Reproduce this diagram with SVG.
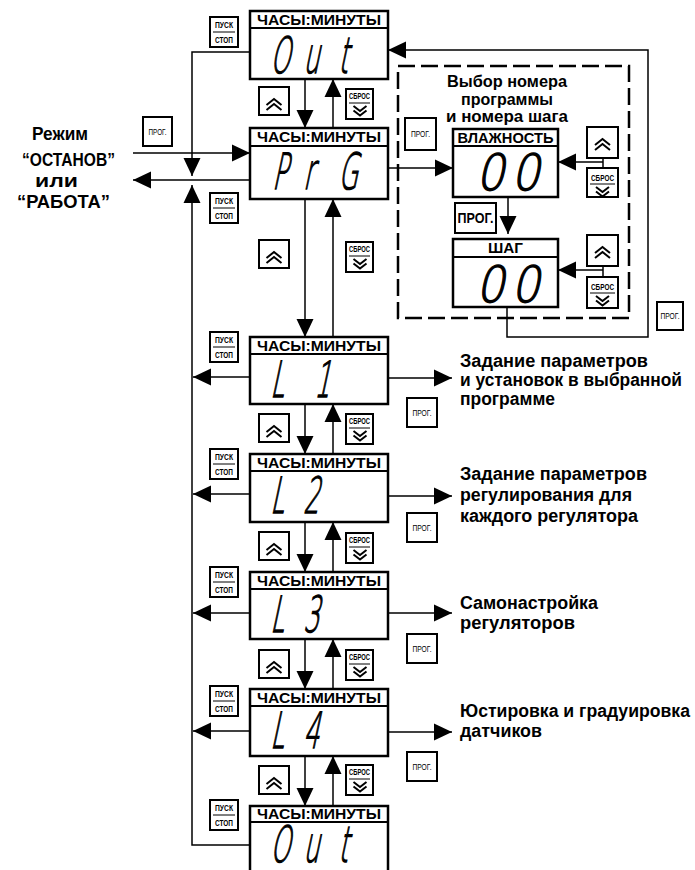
<svg xmlns="http://www.w3.org/2000/svg" xmlns:xlink="http://www.w3.org/1999/xlink" width="695" height="870" viewBox="0 0 695 870">
<style>
.d{fill:#fff;stroke:#000;stroke-width:2.5}
.hl{stroke:#000;stroke-width:2}
.b{fill:#fff;stroke:#000;stroke-width:2}
.sep{stroke:#000;stroke-width:1}
.c{fill:none;stroke:#000;stroke-width:1.5}
.ca{fill:none;stroke:#000;stroke-width:1.5;marker-end:url(#ah)}
.dash{fill:none;stroke:#000;stroke-width:2.5;stroke-dasharray:17 6}
.chev{fill:none;stroke:#000;stroke-width:2}
.hdr{font-family:"Liberation Sans",Arial,sans-serif;font-weight:bold;font-size:15px;text-anchor:middle}
.seg{font-family:"DejaVu Sans",sans-serif;font-weight:200;font-size:50px;fill:#000;stroke:#000;stroke-width:1.3}
.bt{font-family:"Liberation Sans",Arial,sans-serif;font-weight:bold;font-size:9px;text-anchor:middle}
.pg{font-family:"Liberation Sans",Arial,sans-serif;font-size:8.5px;text-anchor:middle}
.pgb{font-family:"Liberation Sans",Arial,sans-serif;font-weight:bold;font-size:14px;text-anchor:middle}
.lt{font-family:"Liberation Sans",Arial,sans-serif;font-weight:bold;font-size:18px}
.mt{font-family:"Liberation Sans",Arial,sans-serif;font-weight:bold;font-size:16px;text-anchor:middle}
.rt{font-family:"Liberation Sans",Arial,sans-serif;font-weight:bold;font-size:18px}
</style>
<defs>
<marker id="ah" viewBox="0 0 18 18" refX="18" refY="9" markerWidth="18" markerHeight="18" markerUnits="userSpaceOnUse" orient="auto"><path d="M0,0.5 L18,9 L0,17.5 z" fill="#000"/></marker>
<g id="chu" class="chev"><polyline points="-7.5,6 0,0 7.5,6"/><polyline points="-7.5,11 0,5 7.5,11"/></g>
<g id="chd" class="chev"><polyline points="-6.5,0 0,5 6.5,0"/><polyline points="-6.5,4.5 0,9.5 6.5,4.5"/></g>
</defs>

<rect width="695" height="870" fill="#fff"/>

<g id="connectors">
<path class="ca" d="M305,79 V128"/><path class="ca" d="M333,128 V79"/>
<path class="ca" d="M305,199 V337"/><path class="ca" d="M333,337 V199"/>
<path class="ca" d="M305,404 V454"/><path class="ca" d="M333,454 V404"/>
<path class="ca" d="M305,522 V572"/><path class="ca" d="M333,572 V522"/>
<path class="ca" d="M305,639 V689"/><path class="ca" d="M333,689 V639"/>
<path class="ca" d="M305,756 V806"/><path class="ca" d="M333,806 V756"/>
<path class="ca" d="M250,52 H192 V176"/>
<path class="ca" d="M250,845 H192 V185"/>
<path class="ca" d="M133,153 H250"/>
<path class="ca" d="M250,180 H133"/>
<path class="ca" d="M250,377 H193"/><path class="ca" d="M388,378 H452"/>
<path class="ca" d="M250,494 H193"/><path class="ca" d="M388,496 H452"/>
<path class="ca" d="M250,613 H193"/><path class="ca" d="M388,613 H452"/>
<path class="ca" d="M250,731 H193"/><path class="ca" d="M388,732 H452"/>
<path class="ca" d="M388,168 H453"/>
<path class="ca" d="M508,197 V234"/>
<path class="c" d="M603,158 V168"/><path class="ca" d="M603,162 H558"/>
<path class="c" d="M603,267 V277"/><path class="ca" d="M603,270 H558"/>
<path class="ca" d="M507,307 V337 H648 V50 H388"/>
</g>

<g id="select-group"><rect class="dash" x="398" y="66" width="231" height="252"/>
<text class="mt" x="507" y="87" textLength="120" lengthAdjust="spacingAndGlyphs">Выбор номера</text>
<text class="mt" x="507" y="105" textLength="92" lengthAdjust="spacingAndGlyphs">программы</text>
<text class="mt" x="507" y="122" textLength="122" lengthAdjust="spacingAndGlyphs">и номера шага</text>
</g>

<g id="mode-label">
<text class="lt" x="32" y="140" textLength="56" lengthAdjust="spacingAndGlyphs">Режим</text>
<text class="lt" x="22" y="166" textLength="93" lengthAdjust="spacingAndGlyphs">“ОСТАНОВ”</text>
<text class="lt" x="35" y="187" textLength="43" lengthAdjust="spacingAndGlyphs">или</text>
<text class="lt" x="17" y="208" textLength="93" lengthAdjust="spacingAndGlyphs">“РАБОТА”</text>
</g>

<g id="d-out-top"><rect class="d" x="250" y="11" width="138" height="68"/><line class="hl" x1="250" y1="28" x2="388" y2="28"/><text class="hdr" x="319" y="25" textLength="124" lengthAdjust="spacingAndGlyphs">ЧАСЫ:МИНУТЫ</text><text class="seg" transform="translate(0,73) skewX(-12) scale(0.5,1)" x="540 606 676" y="0">Out</text></g>
<g id="d-prg"><rect class="d" x="250" y="128" width="138" height="71"/><line class="hl" x1="250" y1="146" x2="388" y2="146"/><text class="hdr" x="319" y="142" textLength="124" lengthAdjust="spacingAndGlyphs">ЧАСЫ:МИНУТЫ</text><text class="seg" transform="translate(0,189) skewX(-12) scale(0.5,1)" x="544 606 676" y="0">PrG</text></g>
<g id="d-l1"><rect class="d" x="250" y="337" width="138" height="67"/><line class="hl" x1="250" y1="354" x2="388" y2="354"/><text class="hdr" x="319" y="351" textLength="124" lengthAdjust="spacingAndGlyphs">ЧАСЫ:МИНУТЫ</text><text class="seg" transform="translate(0,397) skewX(-12) scale(0.5,1)" x="540 628" y="0">L1</text></g>
<g id="d-l2"><rect class="d" x="250" y="454" width="138" height="68"/><line class="hl" x1="250" y1="471" x2="388" y2="471"/><text class="hdr" x="319" y="468" textLength="124" lengthAdjust="spacingAndGlyphs">ЧАСЫ:МИНУТЫ</text><text class="seg" transform="translate(0,513) skewX(-12) scale(0.5,1)" x="540 606" y="0">L2</text></g>
<g id="d-l3"><rect class="d" x="250" y="572" width="138" height="67"/><line class="hl" x1="250" y1="589" x2="388" y2="589"/><text class="hdr" x="319" y="586" textLength="124" lengthAdjust="spacingAndGlyphs">ЧАСЫ:МИНУТЫ</text><text class="seg" transform="translate(0,632) skewX(-12) scale(0.5,1)" x="540 606" y="0">L3</text></g>
<g id="d-l4"><rect class="d" x="250" y="689" width="138" height="67"/><line class="hl" x1="250" y1="706" x2="388" y2="706"/><text class="hdr" x="319" y="703" textLength="124" lengthAdjust="spacingAndGlyphs">ЧАСЫ:МИНУТЫ</text><text class="seg" transform="translate(0,748) skewX(-12) scale(0.5,1)" x="540 606" y="0">L4</text></g>
<g id="d-out-bot"><rect class="d" x="250" y="806" width="138" height="80"/><line class="hl" x1="250" y1="822" x2="388" y2="822"/><text class="hdr" x="319" y="819" textLength="124" lengthAdjust="spacingAndGlyphs">ЧАСЫ:МИНУТЫ</text><text class="seg" transform="translate(0,862) skewX(-12) scale(0.5,1)" x="540 606 676" y="0">Out</text></g>
<g id="d-vl"><rect class="d" x="453" y="129" width="105" height="68"/><line class="hl" x1="453" y1="146" x2="558" y2="146"/><text class="hdr" x="505.5" y="143" textLength="96" lengthAdjust="spacingAndGlyphs">ВЛАЖНОСТЬ</text><text class="seg" transform="translate(0,190) skewX(-12) scale(0.9,1)" x="529 568" y="0">00</text></g>
<g id="d-shag"><rect class="d" x="453" y="239" width="105" height="68"/><line class="hl" x1="453" y1="257" x2="558" y2="257"/><text class="hdr" x="505.5" y="253" textLength="35" lengthAdjust="spacingAndGlyphs">ШАГ</text><text class="seg" transform="translate(0,302) skewX(-12) scale(0.9,1)" x="529 568" y="0">00</text></g>

<g id="b-up-1"><rect class="b" x="259" y="87" width="30" height="28"/><use xlink:href="#chu" x="274" y="99"/></g>
<g id="b-up-2"><rect class="b" x="259" y="240" width="30" height="28"/><use xlink:href="#chu" x="274" y="252"/></g>
<g id="b-up-3"><rect class="b" x="259" y="414" width="30" height="28"/><use xlink:href="#chu" x="274" y="426"/></g>
<g id="b-up-4"><rect class="b" x="259" y="532" width="30" height="28"/><use xlink:href="#chu" x="274" y="544"/></g>
<g id="b-up-5"><rect class="b" x="259" y="650" width="30" height="28"/><use xlink:href="#chu" x="274" y="662"/></g>
<g id="b-up-6"><rect class="b" x="259" y="766" width="30" height="28"/><use xlink:href="#chu" x="274" y="778"/></g>
<g id="b-up-7"><rect class="b" x="587" y="127" width="31" height="31"/><use xlink:href="#chu" x="602.5" y="139"/></g>
<g id="b-up-8"><rect class="b" x="587" y="235" width="31" height="31"/><use xlink:href="#chu" x="602.5" y="247"/></g>

<g id="b-rst-1"><rect class="b" x="346" y="89" width="27" height="30"/><text class="bt" x="359.5" y="99" textLength="21" lengthAdjust="spacingAndGlyphs">СБРОС</text><line class="sep" x1="349" y1="103" x2="370" y2="103"/><use xlink:href="#chd" x="360" y="106"/></g>
<g id="b-rst-2"><rect class="b" x="346" y="242" width="27" height="30"/><text class="bt" x="359.5" y="252" textLength="21" lengthAdjust="spacingAndGlyphs">СБРОС</text><line class="sep" x1="349" y1="256" x2="370" y2="256"/><use xlink:href="#chd" x="360" y="259"/></g>
<g id="b-rst-3"><rect class="b" x="346" y="414" width="27" height="30"/><text class="bt" x="359.5" y="424" textLength="21" lengthAdjust="spacingAndGlyphs">СБРОС</text><line class="sep" x1="349" y1="428" x2="370" y2="428"/><use xlink:href="#chd" x="360" y="431"/></g>
<g id="b-rst-4"><rect class="b" x="346" y="533" width="27" height="30"/><text class="bt" x="359.5" y="543" textLength="21" lengthAdjust="spacingAndGlyphs">СБРОС</text><line class="sep" x1="349" y1="547" x2="370" y2="547"/><use xlink:href="#chd" x="360" y="550"/></g>
<g id="b-rst-5"><rect class="b" x="346" y="650" width="27" height="30"/><text class="bt" x="359.5" y="660" textLength="21" lengthAdjust="spacingAndGlyphs">СБРОС</text><line class="sep" x1="349" y1="664" x2="370" y2="664"/><use xlink:href="#chd" x="360" y="667"/></g>
<g id="b-rst-6"><rect class="b" x="346" y="765" width="27" height="30"/><text class="bt" x="359.5" y="775" textLength="21" lengthAdjust="spacingAndGlyphs">СБРОС</text><line class="sep" x1="349" y1="779" x2="370" y2="779"/><use xlink:href="#chd" x="360" y="782"/></g>
<g id="b-rst-7"><rect class="b" x="587" y="168" width="31" height="29"/><text class="bt" x="602.5" y="180.5" textLength="23" lengthAdjust="spacingAndGlyphs">СБРОС</text><line class="sep" x1="590" y1="184" x2="615" y2="184"/><use xlink:href="#chd" x="602.5" y="187"/></g>
<g id="b-rst-8"><rect class="b" x="587" y="277" width="31" height="31"/><text class="bt" x="602.5" y="289.5" textLength="23" lengthAdjust="spacingAndGlyphs">СБРОС</text><line class="sep" x1="590" y1="293" x2="615" y2="293"/><use xlink:href="#chd" x="602.5" y="296"/></g>

<g id="b-ss-1"><rect class="b" x="210" y="17" width="28" height="30"/><text class="bt" x="224" y="27.5" textLength="18" lengthAdjust="spacingAndGlyphs">ПУСК</text><line class="sep" x1="213" y1="32" x2="235" y2="32"/><text class="bt" x="224" y="42.5" textLength="18" lengthAdjust="spacingAndGlyphs">СТОП</text></g>
<g id="b-ss-2"><rect class="b" x="210" y="193" width="28" height="30"/><text class="bt" x="224" y="203.5" textLength="18" lengthAdjust="spacingAndGlyphs">ПУСК</text><line class="sep" x1="213" y1="208" x2="235" y2="208"/><text class="bt" x="224" y="218.5" textLength="18" lengthAdjust="spacingAndGlyphs">СТОП</text></g>
<g id="b-ss-3"><rect class="b" x="210" y="332" width="28" height="30"/><text class="bt" x="224" y="342.5" textLength="18" lengthAdjust="spacingAndGlyphs">ПУСК</text><line class="sep" x1="213" y1="347" x2="235" y2="347"/><text class="bt" x="224" y="357.5" textLength="18" lengthAdjust="spacingAndGlyphs">СТОП</text></g>
<g id="b-ss-4"><rect class="b" x="210" y="449" width="28" height="30"/><text class="bt" x="224" y="459.5" textLength="18" lengthAdjust="spacingAndGlyphs">ПУСК</text><line class="sep" x1="213" y1="464" x2="235" y2="464"/><text class="bt" x="224" y="474.5" textLength="18" lengthAdjust="spacingAndGlyphs">СТОП</text></g>
<g id="b-ss-5"><rect class="b" x="210" y="567" width="28" height="30"/><text class="bt" x="224" y="577.5" textLength="18" lengthAdjust="spacingAndGlyphs">ПУСК</text><line class="sep" x1="213" y1="582" x2="235" y2="582"/><text class="bt" x="224" y="592.5" textLength="18" lengthAdjust="spacingAndGlyphs">СТОП</text></g>
<g id="b-ss-6"><rect class="b" x="210" y="686" width="28" height="30"/><text class="bt" x="224" y="696.5" textLength="18" lengthAdjust="spacingAndGlyphs">ПУСК</text><line class="sep" x1="213" y1="701" x2="235" y2="701"/><text class="bt" x="224" y="711.5" textLength="18" lengthAdjust="spacingAndGlyphs">СТОП</text></g>
<g id="b-ss-7"><rect class="b" x="210" y="800" width="28" height="30"/><text class="bt" x="224" y="810.5" textLength="18" lengthAdjust="spacingAndGlyphs">ПУСК</text><line class="sep" x1="213" y1="815" x2="235" y2="815"/><text class="bt" x="224" y="825.5" textLength="18" lengthAdjust="spacingAndGlyphs">СТОП</text></g>

<g id="b-prog-1"><rect class="b" x="143" y="117" width="29" height="29"/><text class="pg" x="157.5" y="134.5" textLength="18" lengthAdjust="spacingAndGlyphs">ПРОГ.</text></g>
<g id="b-prog-2"><rect class="b" x="405" y="118" width="31" height="32"/><text class="pg" x="420.5" y="137" textLength="19" lengthAdjust="spacingAndGlyphs">ПРОГ.</text></g>
<g id="b-prog-3"><rect class="b" x="455" y="203" width="41" height="30"/><text class="pgb" x="475.5" y="223" textLength="36" lengthAdjust="spacingAndGlyphs">ПРОГ.</text></g>
<g id="b-prog-4"><rect class="b" x="657" y="302" width="26" height="28"/><text class="pg" x="670" y="319" textLength="19" lengthAdjust="spacingAndGlyphs">ПРОГ.</text></g>
<g id="b-prog-5"><rect class="b" x="407" y="398" width="30" height="29"/><text class="pg" x="422" y="415.5" textLength="19" lengthAdjust="spacingAndGlyphs">ПРОГ.</text></g>
<g id="b-prog-6"><rect class="b" x="407" y="513" width="30" height="29"/><text class="pg" x="422" y="530.5" textLength="19" lengthAdjust="spacingAndGlyphs">ПРОГ.</text></g>
<g id="b-prog-7"><rect class="b" x="407" y="634" width="30" height="29"/><text class="pg" x="422" y="651.5" textLength="19" lengthAdjust="spacingAndGlyphs">ПРОГ.</text></g>
<g id="b-prog-8"><rect class="b" x="407" y="752" width="30" height="29"/><text class="pg" x="422" y="769.5" textLength="19" lengthAdjust="spacingAndGlyphs">ПРОГ.</text></g>

<g id="t-l1">
<text class="rt" x="460" y="367" textLength="188" lengthAdjust="spacingAndGlyphs">Задание параметров</text>
<text class="rt" x="460" y="386" textLength="222" lengthAdjust="spacingAndGlyphs">и установок в выбранной</text>
<text class="rt" x="460" y="405" textLength="95" lengthAdjust="spacingAndGlyphs">программе</text>
</g>
<g id="t-l2">
<text class="rt" x="460" y="480" textLength="187" lengthAdjust="spacingAndGlyphs">Задание параметров</text>
<text class="rt" x="460" y="501" textLength="172" lengthAdjust="spacingAndGlyphs">регулирования для</text>
<text class="rt" x="460" y="522" textLength="178" lengthAdjust="spacingAndGlyphs">каждого регулятора</text>
</g>
<g id="t-l3">
<text class="rt" x="460" y="609" textLength="138" lengthAdjust="spacingAndGlyphs">Самонастройка</text>
<text class="rt" x="460" y="629" textLength="115" lengthAdjust="spacingAndGlyphs">регуляторов</text>
</g>
<g id="t-l4">
<text class="rt" x="460" y="717" textLength="230" lengthAdjust="spacingAndGlyphs" style="font-size:17.5px">Юстировка и градуировка</text>
<text class="rt" x="460" y="737" textLength="82" lengthAdjust="spacingAndGlyphs">датчиков</text>
</g>
</svg>
